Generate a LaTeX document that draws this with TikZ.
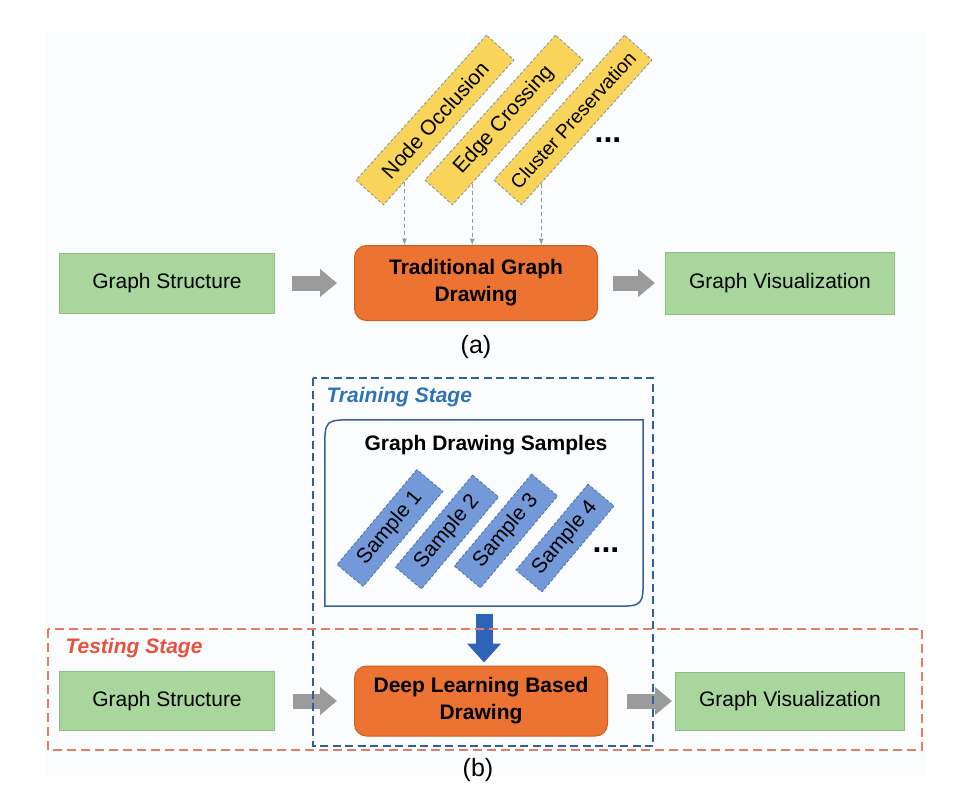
\documentclass[tikz,border=0pt]{standalone}
\usepackage{fontspec}
\setmainfont{Liberation Sans}
\usepackage{tikz}
\usetikzlibrary{arrows.meta}
\usetikzlibrary{calc}
\tikzset{>=latex}
\definecolor{bgpaper}{HTML}{FBFCFE}
\definecolor{grfill}{HTML}{A8D69D}
\definecolor{grborder}{HTML}{8DBE82}
\definecolor{orfill}{HTML}{EC7331}
\definecolor{orborder}{HTML}{C9611F}
\definecolor{ylfill}{HTML}{F9D45A}
\definecolor{ylborder}{HTML}{7C93A6}
\definecolor{smfill}{HTML}{7399D8}
\definecolor{smborder}{HTML}{4C70AA}
\definecolor{arrowgray}{HTML}{9B9B9B}
\definecolor{arrowblue}{HTML}{2E63B8}
\definecolor{linkgray}{HTML}{8A9AAA}
\definecolor{trainblue}{HTML}{2F5F9E}
\definecolor{trainlabel}{HTML}{2E74B5}
\definecolor{testred}{HTML}{E57C66}
\definecolor{testlabel}{HTML}{E5533E}
\definecolor{frameblue}{HTML}{3A5F95}
\newcommand{\pxsize}[2]{\fontsize{#1}{#2}\selectfont}
\tikzset{
  greenbox/.style={draw=grborder, fill=grfill, line width=1pt, minimum height=60pt, font=\pxsize{21}{25}},
  orangebox/.style={draw=orborder, fill=orfill, line width=1pt, rounded corners=12pt, align=center, font=\bfseries\pxsize{21}{27}},
  yellowbox/.style={draw=ylborder, fill=ylfill, line width=0.8pt, dash pattern=on 3pt off 2pt, minimum width=195pt, minimum height=37pt, inner sep=1pt, rotate=48, font=\pxsize{21}{24}},
  samplebox/.style={draw=smborder, fill=smfill, line width=0.8pt, dash pattern=on 3pt off 2pt, minimum height=34pt, inner sep=1pt, rotate=50, font=\pxsize{21}{24}},
  grayarrow/.style={line width=15pt, color=arrowgray, -{Triangle[width=27pt,length=17pt]}},
  bluearrow/.style={line width=17pt, color=arrowblue, -{Triangle[width=33pt,length=19pt]}},
  dashlink/.style={line width=1.2pt, color=linkgray, dash pattern=on 4pt off 3pt, ->},
  trainframe/.style={draw=trainblue, line width=2.2pt, dash pattern=on 8pt off 4.5pt},
  testframe/.style={draw=testred, line width=2.5pt, dash pattern=on 9pt off 5pt},
  stagelabel/.style={anchor=west, font=\bfseries\itshape\pxsize{21}{25}},
  dots/.style={font=\bfseries\pxsize{32}{32}},
  caption/.style={font=\pxsize{25}{28}}
}

\begin{document}
\begin{tikzpicture}[x=1pt, y=-1pt]
    \useasboundingbox (0,0) rectangle (960,798);
    \fill[bgpaper] (45,32) rectangle (925,776);

    % (a) traditional pipeline
    \node[greenbox, minimum width=215pt] (gsa) at (167,283) {Graph Structure};
    \node[orangebox, minimum width=243pt, minimum height=75pt] (tgd) at (476,283) {Traditional Graph\\Drawing};
    \node[greenbox, minimum width=229pt, minimum height=62pt] (gva) at (780,283) {Graph Visualization};
    \draw[grayarrow] ([xshift=17pt]gsa.east) -- ([xshift=-17pt]tgd.west);
    \draw[grayarrow] ([xshift=15pt]tgd.east) -- ([xshift=-10pt]gva.west);

    \node[yellowbox] (occl) at (435,120) {Node Occlusion};
    \node[yellowbox] (cross) at (504,120) {Edge Crossing};
    \node[yellowbox, font=\pxsize{19.5}{22}] (clust) at (573,120) {Cluster Preservation};
    \node[dots] (adots) at (608,140) {...};
    \draw[dashlink] ($(occl.south west)!.16!(occl.south east)$) coordinate (o1) -- (o1 |- tgd.north);
    \draw[dashlink] ($(cross.south west)!.15!(cross.south east)$) coordinate (o2) -- (o2 |- tgd.north);
    \draw[dashlink] ($(clust.south west)!.15!(clust.south east)$) coordinate (o3) -- (o3 |- tgd.north);
    \node[caption] (capa) at (476,347) {(a)};

    % (b) learning based pipeline
    \node[stagelabel, text=trainlabel] (trainlbl) at (323,397) {Training Stage};
    \node[minimum width=318pt, minimum height=186pt] (samples) at (484,513) {};
    \draw[frameblue, line width=1.5pt] (samples.south west) -- ([yshift=-30pt]samples.north west)
        .. controls (samples.north west) .. ([xshift=30pt]samples.north west) -- (samples.north east)
        -- ([yshift=30pt]samples.south east) .. controls (samples.south east) .. ([xshift=-30pt]samples.south east)
        -- cycle;
    \node[font=\bfseries\pxsize{21}{25}] (gdsl) at (486,445) {Graph Drawing Samples};
    \node[samplebox, minimum width=124pt] (s1) at (390,528) {Sample 1};
    \node[samplebox, minimum width=120pt] (s2) at (447,532) {Sample 2};
    \node[samplebox, minimum width=120pt] (s3) at (506,531) {Sample 3};
    \node[samplebox, minimum width=112pt] (s4) at (565,538) {Sample 4};
    \node[dots] (bdots) at (606,550) {...};

    \node[greenbox, minimum width=215pt, minimum height=59pt] (gsb) at (167,701) {Graph Structure};
    \node[orangebox, minimum width=253pt, minimum height=70pt] (dlb) at (481,701) {Deep Learning Based\\Drawing};
    \node[greenbox, minimum width=229pt, minimum height=58pt] (gvb) at (790,701) {Graph Visualization};
    \draw[grayarrow] ([xshift=18pt]gsb.east) -- ([xshift=-17pt]dlb.west);
    \draw[grayarrow] ([xshift=19pt]dlb.east) -- ([xshift=-3pt]gvb.west);
    \draw[bluearrow] ([yshift=-8pt]samples.south) -- ([yshift=3pt]samples.south |- dlb.north);

    \node[stagelabel, text=testlabel] (testlbl) at (62,648) {Testing Stage};
    \draw[trainframe] (313,378) rectangle (653,746);
    \draw[testframe] (48,629) rectangle (922,750);
    \node[caption] (capb) at (478,770) {(b)};
\end{tikzpicture}
\end{document}
